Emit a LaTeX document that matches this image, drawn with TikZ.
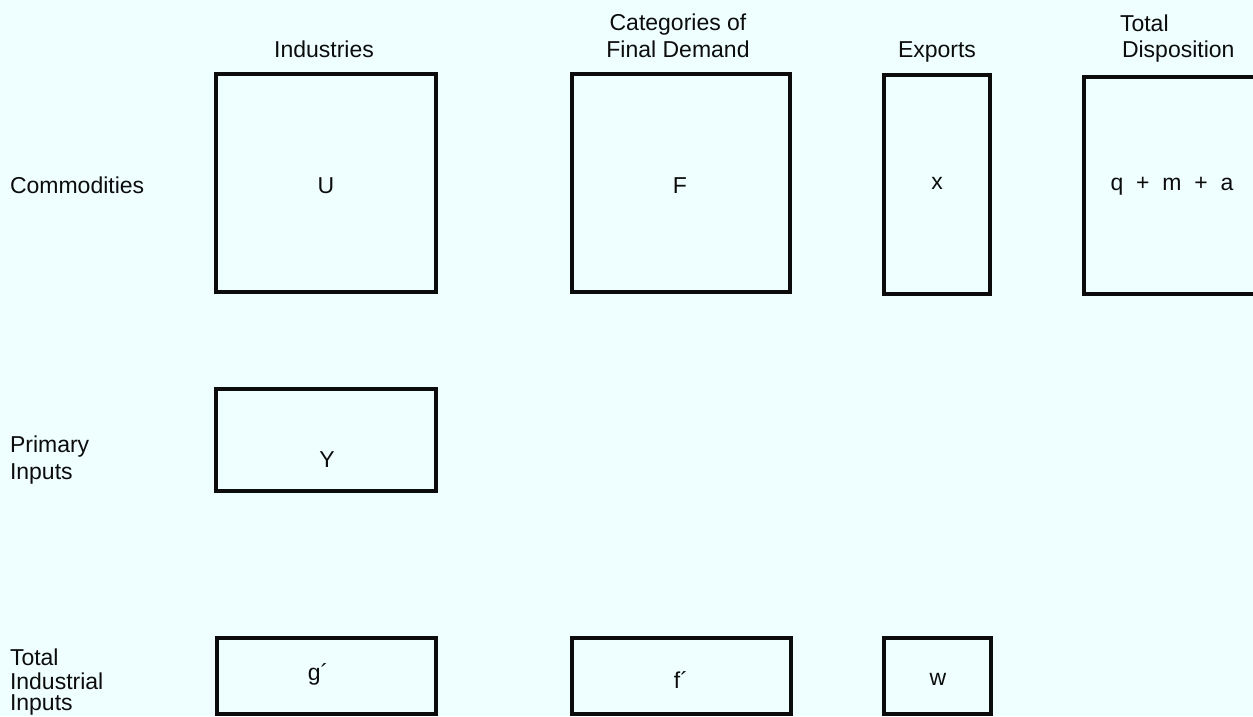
\documentclass[tikz,border=0pt]{standalone}
\usepackage{fontspec}
\setmainfont{Liberation Sans}
\definecolor{paper}{RGB}{239,255,255}
\definecolor{ink}{RGB}{12,12,12}
\begin{document}
\begin{tikzpicture}[x=1pt,y=-1pt,
  every node/.style={inner sep=0pt,outer sep=0pt,text=ink,font=\fontsize{23}{28}\selectfont},
  box/.style={draw=ink,line width=3.2pt,rectangle},
  head/.style={anchor=base},
  side/.style={anchor=base west},
  entry/.style={anchor=base}]
  % page frame
  \useasboundingbox (0,0) rectangle (1253,716);
  \clip (0,0) rectangle (1253,716);
  \fill[paper] (0,0) rectangle (1253,716);

  % column headings
  \node[head] (hInd)  at (324,57) {Industries};
  \node[head] (hCat1) at (678,30) {Categories of};
  \node[head] (hCat2) at (678,57) {Final Demand};
  \node[head] (hExp)  at (937,57) {Exports};
  \node[anchor=base west] (hTot1) at (1120,31) {Total};
  \node[anchor=base west] (hTot2) at (1122,57) {Disposition};

  % row headings
  \node[side] (rCom)  at (10,193) {Commodities};
  \node[side] (rPri1) at (10,452) {Primary};
  \node[side] (rPri2) at (10,479) {Inputs};
  \node[side] (rTot1) at (10,665) {Total};
  \node[side] (rTot2) at (10,689) {Industrial};
  \node[side] (rTot3) at (10,710) {Inputs};

  % commodity row
  \node[box,minimum width=220pt,minimum height=218pt] (U)  at (326,183) {};
  \node[box,minimum width=218pt,minimum height=218pt] (F)  at (681,183) {};
  \node[box,minimum width=106pt,minimum height=219pt] (X)  at (937,184.5) {};
  \node[box,minimum width=216pt,minimum height=217pt] (TD) at (1192,185.5) {};
  \node[entry] (tU)  at (326,193) {U};
  \node[entry] (tF)  at (680,193) {F};
  \node[entry] (tX)  at (937,189) {x};
  \node[entry] (tTD) at (1172,190) {q\ \ +\ \ m\ \ +\ \ a};

  % primary inputs row
  \node[box,minimum width=220pt,minimum height=102pt] (Y) at (326,440) {};
  \node[entry] (tY) at (327,467) {Y};

  % totals row
  \node[box,minimum width=219pt,minimum height=76pt] (G)  at (326.5,676) {};
  \node[box,minimum width=219pt,minimum height=76pt] (Fp) at (681.5,676) {};
  \node[box,minimum width=107pt,minimum height=76pt] (W)  at (937.5,676) {};
  \node[entry] (tG)  at (318,680) {g´};
  \node[entry] (tFp) at (681,688) {f´};
  \node[entry] (tW)  at (938,685) {w};
\end{tikzpicture}
\end{document}
